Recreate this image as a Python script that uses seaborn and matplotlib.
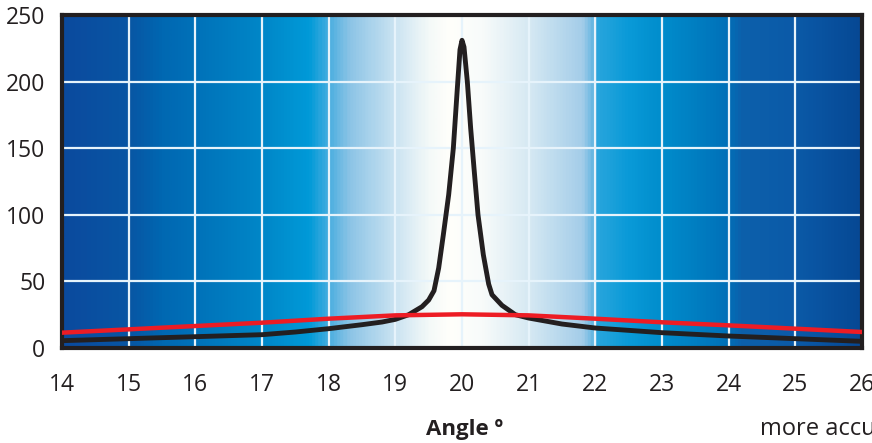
import numpy as np
import pandas as pd
import seaborn as sns
import matplotlib.pyplot as plt
from matplotlib.colors import LinearSegmentedColormap

# values
black_angle = [14.0, 15.0, 16.0, 17.0, 17.5, 18.0, 18.5, 18.8, 19.0, 19.2, 19.4,
               19.5, 19.58, 19.65, 19.72, 19.8, 19.87, 19.93, 19.97, 20.0, 20.03,
               20.08, 20.13, 20.18, 20.24, 20.32, 20.4, 20.45, 20.6, 20.8, 21.0,
               21.5, 22.0, 23.0, 24.0, 25.0, 26.0]
black_value = [5.5, 7, 8.5, 10, 12, 14.5, 17.5, 19.5, 21.5, 25, 31,
               36, 43, 60, 85, 115, 150, 195, 224, 231, 226,
               200, 165, 135, 100, 70, 48, 40, 32, 25, 22.5,
               18, 15, 11.5, 9, 7, 5]

red_angle = [14, 15, 16, 17, 18, 19, 20, 21, 22, 23, 24, 25, 26]
red_value = [11.5, 14, 16.5, 19, 22, 24.5, 25.3, 24.5, 22, 19.3, 17, 14.5, 12]

x_ticks = list(range(14, 27))
y_ticks = [0, 50, 100, 150, 200, 250]

# background colour stops (angle, colour)
bg_stops = [(14.0, "#0b4a9e"), (15.0, "#0856a4"), (15.5, "#0068b2"), (16.0, "#0072b9"),
            (17.0, "#0087c8"), (17.7, "#009ad8"), (18.0, "#4aaee0"), (18.3, "#8cc4e6"),
            (19.0, "#cce4f2"), (19.5, "#f4f9f8"), (19.8, "#fffffb"), (20.3, "#f8fbfa"),
            (21.0, "#d6e9f3"), (21.8, "#a4cde9"), (21.95, "#6ab8e2"), (22.05, "#27a5dc"),
            (22.5, "#0a9ad8"), (23.0, "#008dcc"), (24.0, "#0070b8"), (24.2, "#0d60ab"),
            (25.0, "#0b5aa8"), (26.0, "#064894")]

black_df = pd.DataFrame({"angle": black_angle, "value": black_value})
red_df = pd.DataFrame({"angle": red_angle, "value": red_value})

sns.set_theme(style="white")
plt.rcParams["font.family"] = ["Open Sans", "DejaVu Sans"]

fig = plt.figure(figsize=(8.72, 4.43), dpi=100)
ax = fig.add_axes([62 / 872, 1 - 348 / 443, 800 / 872, 333 / 443])

cmap = LinearSegmentedColormap.from_list(
    "bg", [((a - 14) / 12, c) for a, c in bg_stops])
grad = np.linspace(0, 1, 800).reshape(1, -1)
ax.imshow(grad, cmap=cmap, extent=[14, 26, 0, 250], aspect="auto", zorder=0)

for x in x_ticks[1:-1]:
    ax.axvline(x, color="#e6f3fb", linewidth=1.6, zorder=1)
for y in y_ticks[1:-1]:
    ax.axhline(y, color="#e6f3fb", linewidth=1.6, zorder=1)

sns.lineplot(data=red_df, x="angle", y="value", color="#ed1c24",
             linewidth=3.2, ax=ax, zorder=3)
sns.lineplot(data=black_df, x="angle", y="value", color="#231f20",
             linewidth=3.5, ax=ax, zorder=2)

ax.set_xlim(14, 26)
ax.set_ylim(0, 250)
ax.set_xticks(x_ticks)
ax.set_yticks(y_ticks)
ax.set_xlabel("")
ax.set_ylabel("")
ax.tick_params(axis="both", length=0, labelsize=16.5, colors="#231f20")
ax.tick_params(axis="x", pad=18)
ax.tick_params(axis="y", pad=12)
for s in ax.spines.values():
    s.set_visible(True)
    s.set_color("#231f20")
    s.set_linewidth(3)

fig.text(465 / 872, 1 - 435 / 443, "Angle º", ha="center", va="baseline",
         fontsize=16, fontweight="bold", color="#231f20")
fig.text(760 / 872, 1 - 435 / 443, "more accurate", ha="left", va="baseline",
         fontsize=17, color="#231f20")

fig.savefig("out.png", dpi=100)
